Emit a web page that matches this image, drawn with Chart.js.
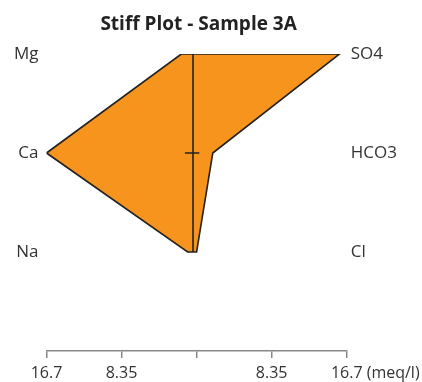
<!DOCTYPE html>
<html><head><meta charset="utf-8">
<script src="https://cdn.jsdelivr.net/npm/chart.js@4.4.1/dist/chart.umd.min.js"></script>
<style>html,body{margin:0;padding:0;background:#fff}#wrap{width:422px;height:382px}</style>
</head><body><div id="wrap"><canvas id="c"></canvas></div>
<script>
// Data (meq/l)
const cations = ['Mg', 'Ca', 'Na'];
const anions = ['SO4', 'HCO3', 'Cl'];
const cationValues = [1.7, 16.7, 1.0];
const anionValues = [15.9, 1.8, 0.0];
const axisMax = 16.7;
const axisTicks = [-16.7, -8.35, 0, 8.35, 16.7];
const unitLabel = '(meq/l)';
const centerLineX = -0.4;
const crossTick = [-1.3, 0.3];
const titleText = 'Stiff Plot - Sample 3A';

// polygon: cations on left (negative), anions on right (positive)
const poly = [];
anions.forEach((a, i) => poly.push({x: anionValues[i], y: i}));
for (let i = cations.length - 1; i >= 0; i--) poly.push({x: -cationValues[i], y: i});
poly.unshift({x: -cationValues[0], y: 0});

const txt = '#333333';
const fontFam = "'Open Sans', 'Noto Sans', sans-serif";

const textPlugin = {
  id: 'texts',
  afterDraw(chart) {
    const xs = chart.scales.x;
    const ca = chart.chartArea;
    const ctx = chart.ctx;
    ctx.save();
    // title centred over the plot area
    ctx.font = 'bold 19px ' + fontFam;
    ctx.fillStyle = '#222';
    ctx.textAlign = 'center';
    ctx.textBaseline = 'middle';
    ctx.fillText(titleText, (ca.left + ca.right) / 2 + 2, 25);
    // unit after last tick label
    ctx.font = '16px ' + fontFam;
    ctx.fillStyle = txt;
    ctx.textAlign = 'left';
    const px = xs.getPixelForValue(axisMax);
    const w = ctx.measureText(String(axisMax)).width;
    ctx.fillText(' ' + unitLabel, px + w / 2, 373);
    ctx.restore();
  }
};

new Chart(document.getElementById('c'), {
  type: 'scatter',
  data: {
    datasets: [
      {data: poly, showLine: true, fill: 'shape', backgroundColor: '#F7941D', borderColor: '#222', borderWidth: 1.6, pointRadius: 0, tension: 0, order: 2},
      {data: [{x: centerLineX, y: 0}, {x: centerLineX, y: 2}], showLine: true, borderColor: '#222', borderWidth: 1.6, pointRadius: 0, order: 0},
      {data: [{x: crossTick[0], y: 1}, {x: crossTick[1], y: 1}], showLine: true, borderColor: '#222', borderWidth: 1.6, pointRadius: 0, order: 0}
    ]
  },
  options: {
    responsive: true, maintainAspectRatio: false, animation: false,
    layout: {padding: {top: 54, bottom: 0, left: 0, right: 0}},
    plugins: {
      legend: {display: false}, tooltip: {enabled: false}, title: {display: false}
    },
    scales: {
      x: {
        type: 'linear', min: -axisMax, max: axisMax,
        afterBuildTicks: s => { s.ticks = axisTicks.map(v => ({value: v})); },
        afterFit: s => { s.height = 31; },
        ticks: {color: txt, font: {family: fontFam, size: 16}, padding: 6, maxRotation: 0, autoSkip: false,
          callback: v => v === 0 ? '' : String(Math.abs(v))},
        grid: {drawOnChartArea: false, drawTicks: true, tickLength: 7, color: '#888', lineWidth: 1.5},
        border: {display: true, color: '#888', width: 1.5}
      },
      y: {
        type: 'linear', position: 'left', reverse: true, min: 0, max: 3,
        afterBuildTicks: s => { s.ticks = [0, 1, 2, 3].map(v => ({value: v})); },
        afterFit: s => { s.width = 46.5; },
        ticks: {color: txt, font: {family: fontFam, size: 17}, padding: 8, autoSkip: false,
          callback: v => cations[v] || ''},
        grid: {display: false, drawTicks: false}, border: {display: false}
      },
      y2: {
        type: 'linear', position: 'right', reverse: true, min: 0, max: 3,
        afterBuildTicks: s => { s.ticks = [0, 1, 2, 3].map(v => ({value: v})); },
        afterFit: s => { s.width = 75.3; },
        ticks: {color: txt, font: {family: fontFam, size: 17}, padding: 4, autoSkip: false,
          callback: v => anions[v] || ''},
        grid: {display: false, drawTicks: false}, border: {display: false}
      }
    }
  },
  plugins: [textPlugin]
});
</script></body></html>
